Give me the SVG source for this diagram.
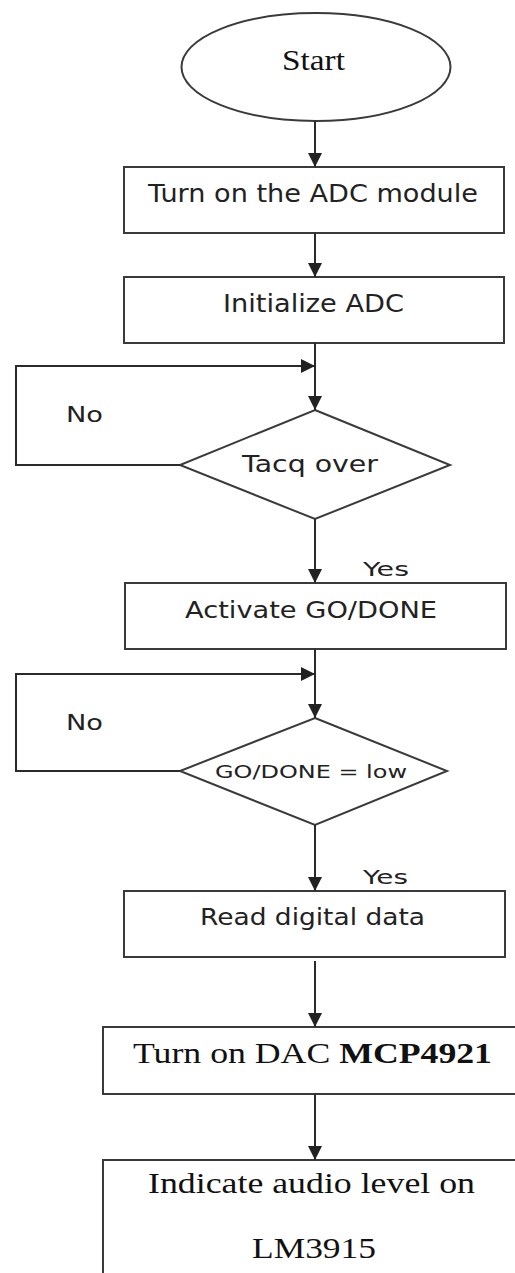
<svg xmlns="http://www.w3.org/2000/svg" width="515" height="1273" viewBox="0 0 515 1273">
<defs>
<marker id="arr" viewBox="0 0 10 10" refX="10" refY="5" markerWidth="14" markerHeight="14" markerUnits="userSpaceOnUse" orient="auto">
<path d="M0,0 L10,5 L0,10 z" fill="#222"/>
</marker>
<style>
.shape{fill:#fff;stroke:#3a3a3a;stroke-width:2}
.conn{fill:none;stroke:#2a2a2a;stroke-width:2}
.sans{font-family:"DejaVu Sans","Liberation Sans",sans-serif;fill:#222}
.serif{font-family:"Liberation Serif","Times New Roman",serif;fill:#111}
</style>
</defs>
<rect width="515" height="1273" fill="#fff"/>
<g id="start">
<ellipse class="shape" cx="316" cy="67" rx="134.5" ry="54"/>
<text class="serif" x="282" y="70" font-size="30" textLength="63" lengthAdjust="spacingAndGlyphs">Start</text>
</g>
<g id="turn-on-adc">
<rect class="shape" x="124" y="167" width="380" height="66"/>
<text class="sans" x="148" y="202" font-size="25" textLength="330" lengthAdjust="spacingAndGlyphs">Turn on the ADC module</text>
</g>
<g id="init-adc">
<rect class="shape" x="124" y="277" width="380" height="66"/>
<text class="sans" x="223" y="312" font-size="25" textLength="181" lengthAdjust="spacingAndGlyphs">Initialize ADC</text>
</g>
<g id="tacq-over">
<polygon class="shape" points="315,410 450,465 315,519 180,465"/>
<text class="sans" x="242" y="472" font-size="23" textLength="136" lengthAdjust="spacingAndGlyphs">Tacq  over</text>
</g>
<g id="activate-go">
<rect class="shape" x="125" y="583" width="381" height="66"/>
<text class="sans" x="185" y="618" font-size="23" textLength="252" lengthAdjust="spacingAndGlyphs">Activate GO/DONE</text>
</g>
<g id="go-done-low">
<polygon class="shape" points="315,718 447,771 315,825 180,771"/>
<text class="sans" x="215" y="778" font-size="17" textLength="192" lengthAdjust="spacingAndGlyphs">GO/DONE = low</text>
</g>
<g id="read-data">
<rect class="shape" x="124" y="891" width="381" height="66"/>
<text class="sans" x="200" y="925" font-size="23" textLength="225" lengthAdjust="spacingAndGlyphs">Read digital data</text>
</g>
<g id="turn-on-dac">
<rect class="shape" x="103" y="1027" width="420" height="67"/>
<text class="serif" x="133" y="1063" font-size="30" textLength="359" lengthAdjust="spacingAndGlyphs">Turn on DAC <tspan font-weight="bold">MCP4921</tspan></text>
</g>
<g id="indicate-level">
<rect class="shape" x="103" y="1160" width="420" height="130"/>
<text class="serif" x="148" y="1193" font-size="29" textLength="327" lengthAdjust="spacingAndGlyphs">Indicate audio level on</text>
<text class="serif" x="252" y="1258" font-size="30" textLength="124" lengthAdjust="spacingAndGlyphs">LM3915</text>
</g>
<g id="connectors">
<line class="conn" x1="315" y1="121" x2="315" y2="167" marker-end="url(#arr)"/>
<line class="conn" x1="315" y1="233" x2="315" y2="277" marker-end="url(#arr)"/>
<line class="conn" x1="315" y1="343" x2="315" y2="410" marker-end="url(#arr)"/>
<polyline class="conn" points="180,465 16,465 16,366 315,366" marker-end="url(#arr)"/>
<line class="conn" x1="315" y1="519" x2="315" y2="583" marker-end="url(#arr)"/>
<line class="conn" x1="315" y1="649" x2="315" y2="718" marker-end="url(#arr)"/>
<polyline class="conn" points="180,771 16,771 16,674 315,674" marker-end="url(#arr)"/>
<line class="conn" x1="315" y1="825" x2="315" y2="891" marker-end="url(#arr)"/>
<line class="conn" x1="315" y1="961" x2="315" y2="1027" marker-end="url(#arr)"/>
<line class="conn" x1="315" y1="1094" x2="315" y2="1160" marker-end="url(#arr)"/>
<text class="sans" x="66" y="422" font-size="21" textLength="37" lengthAdjust="spacingAndGlyphs">No</text>
<text class="sans" x="66" y="730" font-size="21" textLength="37" lengthAdjust="spacingAndGlyphs">No</text>
<text class="sans" x="363" y="576" font-size="20" textLength="46" lengthAdjust="spacingAndGlyphs">Yes</text>
<text class="sans" x="363" y="884" font-size="20" textLength="45" lengthAdjust="spacingAndGlyphs">Yes</text>
</g>
</svg>
